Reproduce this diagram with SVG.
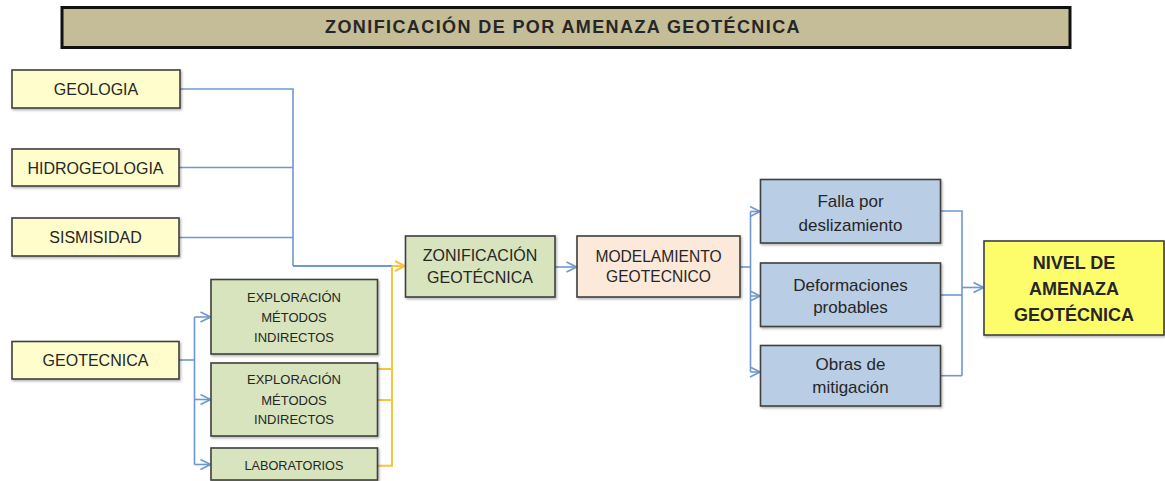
<svg xmlns="http://www.w3.org/2000/svg" width="1165" height="481" viewBox="0 0 1165 481">
<defs>
<style>
.box{stroke:#3f3f3f;stroke-width:1.6;filter:url(#sh)}
.y{fill:#fefdcb}
.g{fill:#d7e4bd}
.p{fill:#fde9d9}
.b{fill:#b9cde5}
.n{fill:#fdfd6c}
text{font-family:"Liberation Sans",Arial,sans-serif;fill:#262626;text-anchor:middle}
.t16{font-size:16px}
.t13{font-size:13px}
.t17{font-size:17px}
.bold{font-weight:bold}
.cb{fill:none;stroke:#6f98cf;stroke-width:1.6}
.cy{fill:none;stroke:#f9c33b;stroke-width:2}
</style>
<filter id="sh" x="-5%" y="-5%" width="112%" height="125%">
<feDropShadow dx="1.2" dy="1.5" stdDeviation="0.8" flood-color="#000" flood-opacity="0.3"/>
</filter>
<marker id="ab" viewBox="0 0 12 12" refX="11" refY="6" markerWidth="12" markerHeight="12" markerUnits="userSpaceOnUse" orient="auto">
<path d="M1,1 L11,6 L1,11" fill="none" stroke="#6f98cf" stroke-width="1.6"/>
</marker>
<marker id="ay" viewBox="0 0 12 12" refX="11" refY="6" markerWidth="12" markerHeight="12" markerUnits="userSpaceOnUse" orient="auto">
<path d="M1,1 L11,6 L1,11" fill="none" stroke="#f9c33b" stroke-width="2"/>
</marker>
</defs>
<rect width="1165" height="481" fill="#ffffff"/>

<g id="title">
<rect x="62" y="7.5" width="1008" height="40" fill="#c4bd97" stroke="#111" stroke-width="3"/>
<text x="563" y="33" class="bold" style="font-size:18px;letter-spacing:1.4px">ZONIFICACIÓN DE POR AMENAZA GEOTÉCNICA</text>
</g>

<g id="connectors">
<path class="cb" d="M180,89 H293 V266"/>
<path class="cb" d="M179,167.5 H293"/>
<path class="cb" d="M179,237.5 H293"/>
<path class="cb" d="M293,266 H392" style="stroke-width:2"/>
<path class="cb" d="M179,360 H194.5"/>
<path class="cb" d="M194.5,317 V464.5"/>
<path class="cb" d="M194.5,317 H210.5" marker-end="url(#ab)"/>
<path class="cb" d="M194.5,399.5 H210.5" marker-end="url(#ab)"/>
<path class="cb" d="M194.5,464.5 H210.5" marker-end="url(#ab)"/>
<path class="cy" d="M377.5,369 H392"/>
<path class="cy" d="M377.5,400 H392"/>
<path class="cy" d="M377.5,465.7 H392 V266"/>
<path class="cy" d="M392,266 H405" marker-end="url(#ay)"/>
<path class="cb" d="M555,267 H576.5" marker-end="url(#ab)"/>
<path class="cb" d="M740,267 H750.5"/>
<path class="cb" d="M750.5,211.5 V372"/>
<path class="cb" d="M750.5,211.5 H760" marker-end="url(#ab)"/>
<path class="cb" d="M750.5,296 H760" marker-end="url(#ab)"/>
<path class="cb" d="M750.5,372 H760" marker-end="url(#ab)"/>
<path class="cb" d="M940.5,211 H962 V375.7"/>
<path class="cb" d="M940.5,295 H962"/>
<path class="cb" d="M940.5,375.7 H962"/>
<path class="cb" d="M962,287.5 H983.5" marker-end="url(#ab)"/>
</g>

<g id="geologia">
<rect class="box y" x="12" y="70" width="168" height="38"/>
<text class="t16" x="96" y="95">GEOLOGIA</text>
</g>
<g id="hidrogeologia">
<rect class="box y" x="12" y="149" width="167" height="37"/>
<text class="t16" x="95.5" y="173.5">HIDROGEOLOGIA</text>
</g>
<g id="sismisidad">
<rect class="box y" x="12" y="218" width="167" height="38"/>
<text class="t16" x="95.5" y="243">SISMISIDAD</text>
</g>
<g id="geotecnica">
<rect class="box y" x="12" y="341.5" width="167" height="37.5"/>
<text class="t16" x="95.5" y="366">GEOTECNICA</text>
</g>

<g id="exploracion1">
<rect class="box g" x="211" y="279.5" width="166.5" height="74.5"/>
<text class="t13" x="294" y="302.3">EXPLORACIÓN</text>
<text class="t13" x="294" y="322.3">MÉTODOS</text>
<text class="t13" x="294" y="342">INDIRECTOS</text>
</g>
<g id="exploracion2">
<rect class="box g" x="211" y="363" width="166.5" height="73"/>
<text class="t13" x="294" y="384">EXPLORACIÓN</text>
<text class="t13" x="294" y="404.5">MÉTODOS</text>
<text class="t13" x="294" y="424">INDIRECTOS</text>
</g>
<g id="laboratorios">
<rect class="box g" x="211" y="448" width="166.5" height="32"/>
<text class="t13" x="294" y="470" style="font-size:12.7px">LABORATORIOS</text>
</g>

<g id="zonificacion">
<rect class="box g" x="405.5" y="236" width="149.5" height="61"/>
<text class="t16" x="480" y="260.7">ZONIFICACIÓN</text>
<text class="t16" x="480" y="283.2">GEOTÉCNICA</text>
</g>

<g id="modelamiento">
<rect class="box p" x="577" y="236" width="163" height="61"/>
<text class="t16" x="658.5" y="261.5" style="font-size:15.6px">MODELAMIENTO</text>
<text class="t16" x="658.5" y="282.3" style="font-size:15.6px">GEOTECNICO</text>
</g>

<g id="falla">
<rect class="box b" x="760.5" y="179.5" width="180" height="63.5"/>
<text class="t17" x="850.5" y="207.3">Falla por</text>
<text class="t17" x="850.5" y="230.7">deslizamiento</text>
</g>
<g id="deformaciones">
<rect class="box b" x="760.5" y="263" width="180" height="63.5"/>
<text class="t17" x="850.5" y="290.7">Deformaciones</text>
<text class="t17" x="850.5" y="313.3">probables</text>
</g>
<g id="obras">
<rect class="box b" x="760.5" y="345.5" width="180" height="60.5"/>
<text class="t17" x="850.5" y="370">Obras de</text>
<text class="t17" x="850.5" y="392.7">mitigación</text>
</g>

<g id="nivel">
<rect class="box n" x="984" y="241" width="180" height="94"/>
<text class="bold" x="1074" y="269" style="font-size:18px">NIVEL DE</text>
<text class="bold" x="1074" y="295" style="font-size:18px">AMENAZA</text>
<text class="bold" x="1074" y="320.7" style="font-size:18px">GEOTÉCNICA</text>
</g>
</svg>
